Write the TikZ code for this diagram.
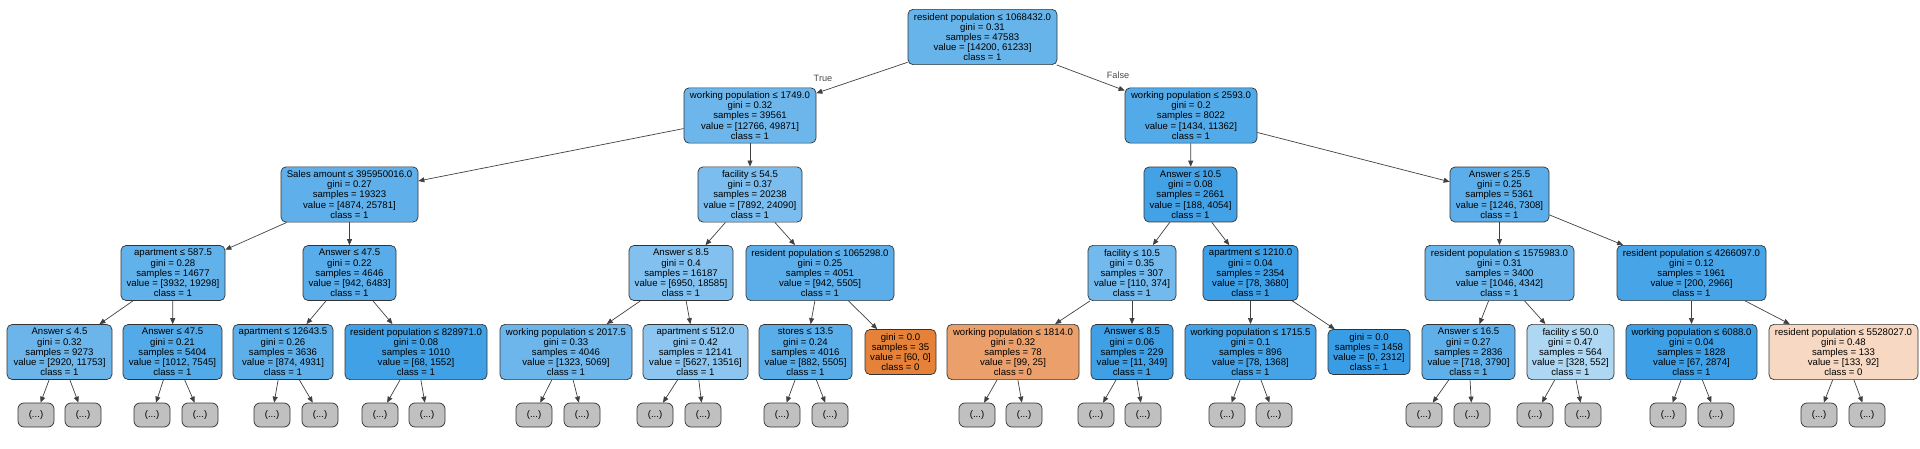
\documentclass[tikz,border=0pt]{standalone}
\usepackage{fontspec}
\setmainfont{Liberation Sans}
\usepackage{xcolor}
\usetikzlibrary{arrows.meta}
\definecolor{cOne}{RGB}{57,157,229}
\definecolor{cZero}{RGB}{229,129,57}
\definecolor{cMore}{RGB}{192,192,192}
\tikzset{
  tBox/.style={rounded corners=5pt,draw=black!80,line width=.7pt,align=center,
        inner xsep=2pt,inner ysep=3.7pt,font=\fontsize{9.6}{10.2}\selectfont},
  tOne/.style={tBox,fill=cOne!#1!white},
  tZero/.style={tBox,fill=cZero!#1!white},
  tMore/.style={tBox,fill=cMore,minimum width=36pt,minimum height=24pt,
        inner sep=0pt,rounded corners=6pt},
  tEdge/.style={draw=black!75,line width=.7pt,-{Triangle[length=6pt,width=5pt]}},
  tLabel/.style={font=\fontsize{9.2}{10}\selectfont,text=black!70},
}
\begin{document}
\begin{tikzpicture}[x=1pt,y=-1pt]
\useasboundingbox (0,0) rectangle (1920,449);
% level 0
\node[tOne=77,minimum width=149pt] (t) at (982.5,37) {resident population ≤ 1068432.0\\gini = 0.31\\samples = 47583\\value = [14200, 61233]\\class = 1};
% level 1
\node[tOne=74,minimum width=132pt] (tl) at (750,115.5) {working population ≤ 1749.0\\gini = 0.32\\samples = 39561\\value = [12766, 49871]\\class = 1};
\node[tOne=87,minimum width=132pt] (tr) at (1191,115.5) {working population ≤ 2593.0\\gini = 0.2\\samples = 8022\\value = [1434, 11362]\\class = 1};
\node[tLabel] (lTrue) at (823,78) {True};
\node[tLabel] (lFalse) at (1118,75) {False};
% level 2
\node[tOne=81,minimum width=137pt] (tll) at (349.5,194.5) {Sales amount ≤ 395950016.0\\gini = 0.27\\samples = 19323\\value = [4874, 25781]\\class = 1};
\node[tOne=67,minimum width=104pt] (tlr) at (750,194.5) {facility ≤ 54.5\\gini = 0.37\\samples = 20238\\value = [7892, 24090]\\class = 1};
\node[tOne=95,minimum width=93pt] (trl) at (1190.5,194.5) {Answer ≤ 10.5\\gini = 0.08\\samples = 2661\\value = [188, 4054]\\class = 1};
\node[tOne=83,minimum width=99pt] (trr) at (1499.5,194.5) {Answer ≤ 25.5\\gini = 0.25\\samples = 5361\\value = [1246, 7308]\\class = 1};
% level 3
\node[tOne=80,minimum width=104pt] (tlll) at (173,273) {apartment ≤ 587.5\\gini = 0.28\\samples = 14677\\value = [3932, 19298]\\class = 1};
\node[tOne=85,minimum width=93pt] (tllr) at (349.5,273) {Answer ≤ 47.5\\gini = 0.22\\samples = 4646\\value = [942, 6483]\\class = 1};
\node[tOne=63,minimum width=104pt] (tlrl) at (681,273) {Answer ≤ 8.5\\gini = 0.4\\samples = 16187\\value = [6950, 18585]\\class = 1};
\node[tOne=83,minimum width=148pt] (tlrr) at (820,273) {resident population ≤ 1065298.0\\gini = 0.25\\samples = 4051\\value = [942, 5505]\\class = 1};
\node[tOne=71,minimum width=88pt] (trll) at (1132,273) {facility ≤ 10.5\\gini = 0.35\\samples = 307\\value = [110, 374]\\class = 1};
\node[tOne=98,minimum width=95pt] (trlr) at (1250.5,273) {apartment ≤ 1210.0\\gini = 0.04\\samples = 2354\\value = [78, 3680]\\class = 1};
\node[tOne=76,minimum width=149pt] (trrl) at (1499.5,273) {resident population ≤ 1575983.0\\gini = 0.31\\samples = 3400\\value = [1046, 4342]\\class = 1};
\node[tOne=93,minimum width=149pt] (trrr) at (1691.5,273) {resident population ≤ 4266097.0\\gini = 0.12\\samples = 1961\\value = [200, 2966]\\class = 1};
% level 4
\node[tOne=75,minimum width=105pt] (tllll) at (59.5,352) {Answer ≤ 4.5\\gini = 0.32\\samples = 9273\\value = [2920, 11753]\\class = 1};
\node[tOne=87,minimum width=99pt] (tlllr) at (172.5,352) {Answer ≤ 47.5\\gini = 0.21\\samples = 5404\\value = [1012, 7545]\\class = 1};
\node[tOne=82,minimum width=100pt] (tllrl) at (283,352) {apartment ≤ 12643.5\\gini = 0.26\\samples = 3636\\value = [874, 4931]\\class = 1};
\node[tOne=96,minimum width=142pt] (tllrr) at (416,352) {resident population ≤ 828971.0\\gini = 0.08\\samples = 1010\\value = [68, 1552]\\class = 1};
\node[tOne=74,minimum width=132pt] (tlrll) at (566,352) {working population ≤ 2017.5\\gini = 0.33\\samples = 4046\\value = [1323, 5069]\\class = 1};
\node[tOne=58,minimum width=105pt] (tlrlr) at (695.5,352) {apartment ≤ 512.0\\gini = 0.42\\samples = 12141\\value = [5627, 13516]\\class = 1};
\node[tOne=84,minimum width=93pt] (tlrrl) at (805.5,352) {stores ≤ 13.5\\gini = 0.24\\samples = 4016\\value = [882, 5505]\\class = 1};
\node[tZero=100,minimum width=71pt] (tlrrr) at (900.5,352) {gini = 0.0\\samples = 35\\value = [60, 0]\\class = 0};
\node[tZero=75,minimum width=132pt] (trlll) at (1013,352) {working population ≤ 1814.0\\gini = 0.32\\samples = 78\\value = [99, 25]\\class = 0};
\node[tOne=97,minimum width=82pt] (trllr) at (1132,352) {Answer ≤ 8.5\\gini = 0.06\\samples = 229\\value = [11, 349]\\class = 1};
\node[tOne=94,minimum width=131pt] (trlrl) at (1250.5,352) {working population ≤ 1715.5\\gini = 0.1\\samples = 896\\value = [78, 1368]\\class = 1};
\node[tOne=100,minimum width=82pt] (trlrr) at (1369,352) {gini = 0.0\\samples = 1458\\value = [0, 2312]\\class = 1};
\node[tOne=81,minimum width=93pt] (trrll) at (1468.5,352) {Answer ≤ 16.5\\gini = 0.27\\samples = 2836\\value = [718, 3790]\\class = 1};
\node[tOne=41,minimum width=87pt] (trrlr) at (1570.5,352) {facility ≤ 50.0\\gini = 0.47\\samples = 564\\value = [328, 552]\\class = 1};
\node[tOne=98,minimum width=131pt] (trrrl) at (1691.5,352) {working population ≤ 6088.0\\gini = 0.04\\samples = 1828\\value = [67, 2874]\\class = 1};
\node[tZero=31,minimum width=149pt] (trrrr) at (1843.5,352) {resident population ≤ 5528027.0\\gini = 0.48\\samples = 133\\value = [133, 92]\\class = 0};
% level 5, cut branches
\node[tMore] (tllllA) at (36,415) {(...)};
\node[tMore] (tllllB) at (83,415) {(...)};
\node[tMore] (tlllrA) at (152,415) {(...)};
\node[tMore] (tlllrB) at (200,415) {(...)};
\node[tMore] (tllrlA) at (272,415) {(...)};
\node[tMore] (tllrlB) at (320,415) {(...)};
\node[tMore] (tllrrA) at (380,415) {(...)};
\node[tMore] (tllrrB) at (427,415) {(...)};
\node[tMore] (tlrllA) at (534,415) {(...)};
\node[tMore] (tlrllB) at (582,415) {(...)};
\node[tMore] (tlrlrA) at (655,415) {(...)};
\node[tMore] (tlrlrB) at (703,415) {(...)};
\node[tMore] (tlrrlA) at (782,415) {(...)};
\node[tMore] (tlrrlB) at (830,415) {(...)};
\node[tMore] (trlllA) at (977,415) {(...)};
\node[tMore] (trlllB) at (1024,415) {(...)};
\node[tMore] (trllrA) at (1096,415) {(...)};
\node[tMore] (trllrB) at (1143,415) {(...)};
\node[tMore] (trlrlA) at (1227,415) {(...)};
\node[tMore] (trlrlB) at (1274,415) {(...)};
\node[tMore] (trrllA) at (1424,415) {(...)};
\node[tMore] (trrllB) at (1472,415) {(...)};
\node[tMore] (trrlrA) at (1535,415) {(...)};
\node[tMore] (trrlrB) at (1583,415) {(...)};
\node[tMore] (trrrlA) at (1668,415) {(...)};
\node[tMore] (trrrlB) at (1716,415) {(...)};
\node[tMore] (trrrrA) at (1819,415) {(...)};
\node[tMore] (trrrrB) at (1867,415) {(...)};
% edges
\draw[tEdge] (t)--(tl);
\draw[tEdge] (t)--(tr);
\draw[tEdge] (tl)--(tll);
\draw[tEdge] (tl)--(tlr);
\draw[tEdge] (tr)--(trl);
\draw[tEdge] (tr)--(trr);
\draw[tEdge] (tll)--(tlll);
\draw[tEdge] (tll)--(tllr);
\draw[tEdge] (tlr)--(tlrl);
\draw[tEdge] (tlr)--(tlrr);
\draw[tEdge] (trl)--(trll);
\draw[tEdge] (trl)--(trlr);
\draw[tEdge] (trr)--(trrl);
\draw[tEdge] (trr)--(trrr);
\draw[tEdge] (tlll)--(tllll);
\draw[tEdge] (tlll)--(tlllr);
\draw[tEdge] (tllr)--(tllrl);
\draw[tEdge] (tllr)--(tllrr);
\draw[tEdge] (tlrl)--(tlrll);
\draw[tEdge] (tlrl)--(tlrlr);
\draw[tEdge] (tlrr)--(tlrrl);
\draw[tEdge] (tlrr)--(tlrrr);
\draw[tEdge] (trll)--(trlll);
\draw[tEdge] (trll)--(trllr);
\draw[tEdge] (trlr)--(trlrl);
\draw[tEdge] (trlr)--(trlrr);
\draw[tEdge] (trrl)--(trrll);
\draw[tEdge] (trrl)--(trrlr);
\draw[tEdge] (trrr)--(trrrl);
\draw[tEdge] (trrr)--(trrrr);
\draw[tEdge] (tllll)--(tllllA);
\draw[tEdge] (tllll)--(tllllB);
\draw[tEdge] (tlllr)--(tlllrA);
\draw[tEdge] (tlllr)--(tlllrB);
\draw[tEdge] (tllrl)--(tllrlA);
\draw[tEdge] (tllrl)--(tllrlB);
\draw[tEdge] (tllrr)--(tllrrA);
\draw[tEdge] (tllrr)--(tllrrB);
\draw[tEdge] (tlrll)--(tlrllA);
\draw[tEdge] (tlrll)--(tlrllB);
\draw[tEdge] (tlrlr)--(tlrlrA);
\draw[tEdge] (tlrlr)--(tlrlrB);
\draw[tEdge] (tlrrl)--(tlrrlA);
\draw[tEdge] (tlrrl)--(tlrrlB);
\draw[tEdge] (trlll)--(trlllA);
\draw[tEdge] (trlll)--(trlllB);
\draw[tEdge] (trllr)--(trllrA);
\draw[tEdge] (trllr)--(trllrB);
\draw[tEdge] (trlrl)--(trlrlA);
\draw[tEdge] (trlrl)--(trlrlB);
\draw[tEdge] (trrll)--(trrllA);
\draw[tEdge] (trrll)--(trrllB);
\draw[tEdge] (trrlr)--(trrlrA);
\draw[tEdge] (trrlr)--(trrlrB);
\draw[tEdge] (trrrl)--(trrrlA);
\draw[tEdge] (trrrl)--(trrrlB);
\draw[tEdge] (trrrr)--(trrrrA);
\draw[tEdge] (trrrr)--(trrrrB);
\end{tikzpicture}
\end{document}
